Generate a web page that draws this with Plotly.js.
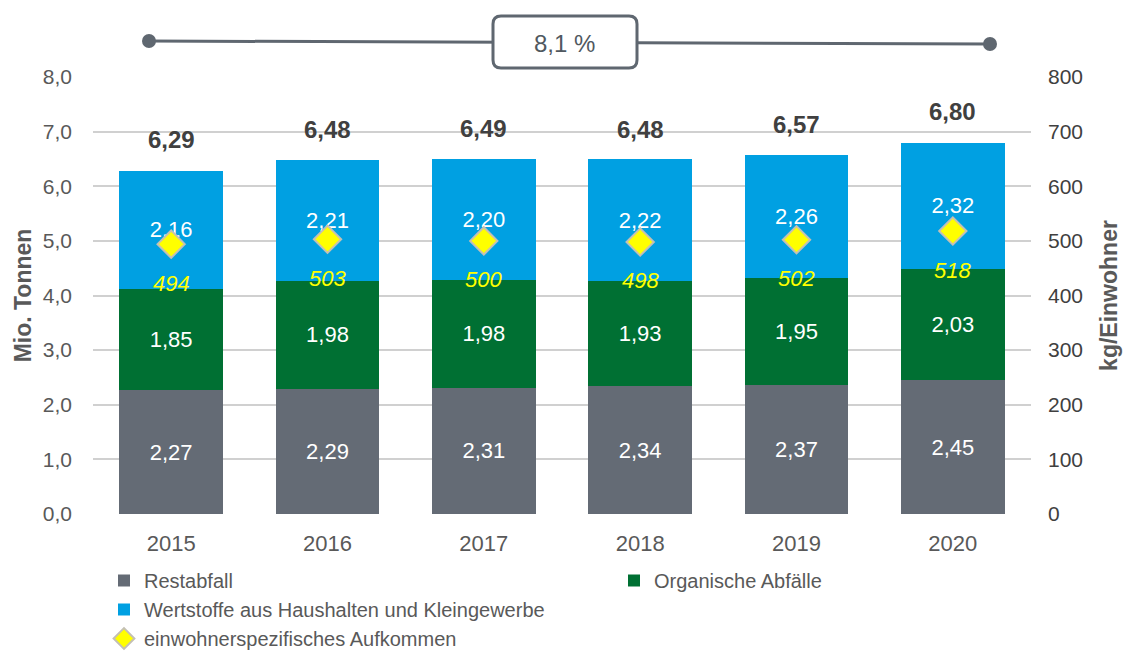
<!DOCTYPE html>
<html><head><meta charset="utf-8">
<script src="https://cdn.plot.ly/plotly-3.0.1.min.js"></script>
<style>html,body{margin:0;padding:0;background:#fff}#c{width:1125px;height:651px}</style>
</head><body><div id="c"></div>
<script>
const years = ['2015','2016','2017','2018','2019','2020'];
const restabfall = [2.27, 2.29, 2.31, 2.34, 2.37, 2.45];
const organisch = [1.85, 1.98, 1.98, 1.93, 1.95, 2.03];
const wertstoffe = [2.16, 2.21, 2.20, 2.22, 2.26, 2.32];
const totals = [6.29, 6.48, 6.49, 6.48, 6.57, 6.80];
const proKopf = [494, 503, 500, 498, 502, 518];
const growthLabel = '8,1 %';

const fmt = v => v.toFixed(2).replace('.', ',');
const fam = 'Liberation Sans, Arial, sans-serif';
const segFont = {family: fam, size: 22, color: '#ffffff'};

const traces = [
  {type:'bar', name:'Restabfall', x:years, y:restabfall, marker:{color:'#646b75'},
   text:restabfall.map(fmt), textposition:'inside', insidetextanchor:'middle', textfont:segFont,
   hoverinfo:'skip', legend:'legend'},
  {type:'bar', name:'Organische Abfälle', x:years, y:organisch, marker:{color:'#007033'},
   text:organisch.map(fmt), textposition:'inside', insidetextanchor:'middle', textfont:segFont,
   hoverinfo:'skip', legend:'legend2'},
  {type:'bar', name:'Wertstoffe aus Haushalten und Kleingewerbe', x:years, y:wertstoffe, marker:{color:'#00a0e2'},
   text:wertstoffe.map(fmt), textposition:'inside', insidetextanchor:'middle', textfont:segFont,
   hoverinfo:'skip', legend:'legend'},
  {type:'scatter', mode:'markers', name:'einwohnerspezifisches Aufkommen', x:years, y:proKopf, yaxis:'y2',
   marker:{symbol:'diamond', size:21, color:'#ffff00', line:{color:'#c4c0b4', width:2}},
   hoverinfo:'skip', legend:'legend'}
];

const annotations = [];
years.forEach((yr,i)=>{
  annotations.push({x:i, y:totals[i], xref:'x', yref:'y', text:'<b>'+fmt(totals[i])+'</b>',
    showarrow:false, yshift:31, font:{family:fam, size:24, color:'#404040'}});
  annotations.push({x:i, y:proKopf[i], xref:'x', yref:'y2', text:'<i>'+proKopf[i]+'</i>',
    showarrow:false, yshift:-39, font:{family:fam, size:22, color:'#ffff00'}});
});

const L = 93, R = 94, T = 77, B = 137, W = 1125, H = 651;
const pw = W - L - R, ph = H - T - B;
const px = x => (x - L) / pw;
const py = y => (H - B - y) / ph;
annotations.push({x:px(564), y:py(43), xref:'paper', yref:'paper', xanchor:'center', yanchor:'middle',
  text:growthLabel, showarrow:false, font:{family:fam, size:24, color:'#505860'}});

const gray = '#5f6770';
const bx0 = px(493), bx1 = px(637), by0 = py(16), by1 = py(68);
const rr = 8;
const rx = rr/pw, ry = rr/ph;
const boxPath = `M ${bx0+rx} ${by0} L ${bx1-rx} ${by0} Q ${bx1} ${by0} ${bx1} ${by0-ry} L ${bx1} ${by1+ry} Q ${bx1} ${by1} ${bx1-rx} ${by1} L ${bx0+rx} ${by1} Q ${bx0} ${by1} ${bx0} ${by1+ry} L ${bx0} ${by0-ry} Q ${bx0} ${by0} ${bx0+rx} ${by0} Z`;

const shapes = [
  {type:'line', xref:'paper', yref:'paper', x0:px(149), y0:py(41), x1:px(990), y1:py(44), line:{color:gray, width:3}},
  {type:'circle', xref:'paper', yref:'paper', x0:px(142), x1:px(156), y0:py(34), y1:py(48), fillcolor:gray, line:{color:gray, width:0}},
  {type:'circle', xref:'paper', yref:'paper', x0:px(983), x1:px(997), y0:py(37), y1:py(51), fillcolor:gray, line:{color:gray, width:0}},
  {type:'path', xref:'paper', yref:'paper', path:boxPath, fillcolor:'#ffffff', line:{color:gray, width:3}}
];

const legFont = {family:fam, size:20, color:'#595959'};
const layout = {
  width:W, height:H, margin:{l:L, r:R, t:T, b:B, autoexpand:false},
  paper_bgcolor:'#ffffff', plot_bgcolor:'#ffffff',
  separators:',.',
  barmode:'stack', bargap:0.335,
  font:{family:fam, color:'#595959'},
  xaxis:{type:'category', range:[-0.5,5.5], autorange:false, showgrid:false, zeroline:false, showline:false, ticks:'',
    tickfont:{size:22, color:'#595959'}, ticklabelstandoff:14},
  yaxis:{range:[0,8], autorange:false, dtick:1, tickformat:'.1f', showgrid:true, gridcolor:'#d0d0d0', gridwidth:2,
    zeroline:false, showline:false, tickfont:{size:21, color:'#595959'}, ticklabelstandoff:20,
    title:{text:'<b>Mio. Tonnen</b>', font:{family:fam, size:23, color:'#595959'}, standoff:4}},
  yaxis2:{range:[0,800], autorange:false, dtick:100, overlaying:'y', side:'right', showgrid:false, zeroline:false,
    tickfont:{size:21, color:'#404040'}, ticklabelstandoff:16,
    title:{text:'<b>kg/Einwohner</b>', font:{family:fam, size:23, color:'#595959'}, standoff:18}},
  showlegend:true,
  legend:{x:px(104), y:py(561), xanchor:'left', yanchor:'top', orientation:'v', tracegroupgap:0,
    font:legFont, itemwidth:30, bgcolor:'rgba(0,0,0,0)', traceorder:'normal'},
  legend2:{x:px(614), y:py(561), xanchor:'left', yanchor:'top', orientation:'v',
    font:legFont, itemwidth:30, bgcolor:'rgba(0,0,0,0)'},
  annotations:annotations, shapes:shapes
};

Plotly.newPlot('c', traces, layout, {displayModeBar:false, staticPlot:true});
</script></body></html>
